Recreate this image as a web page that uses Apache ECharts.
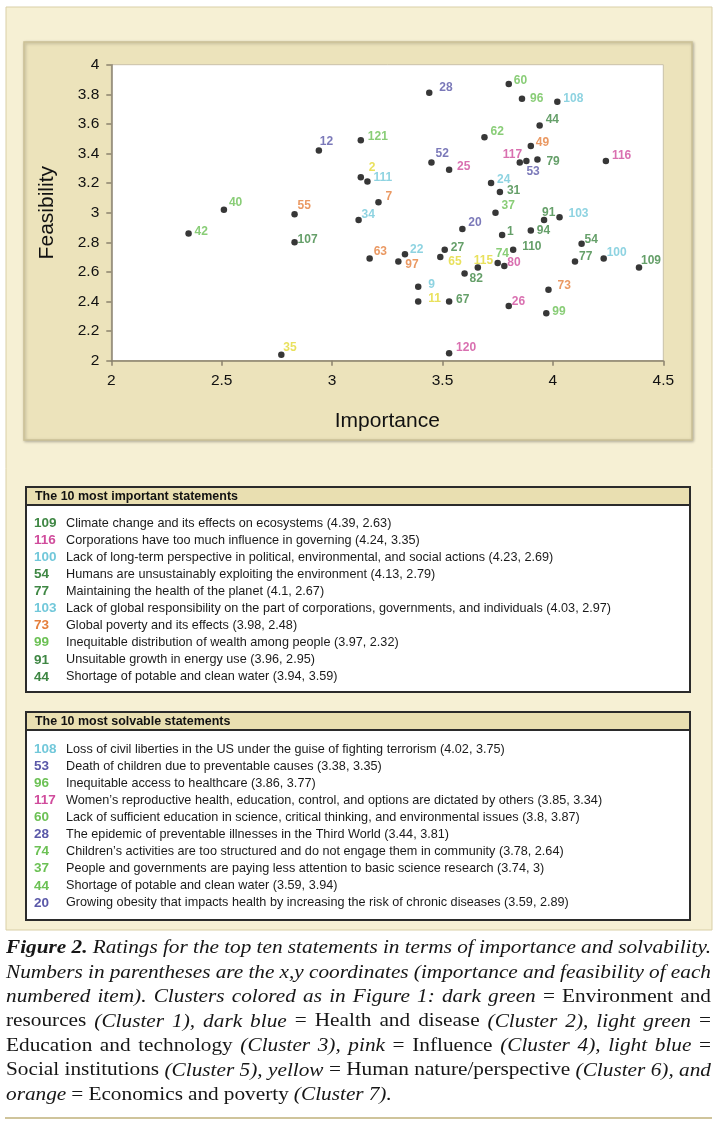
<!DOCTYPE html>
<html><head><meta charset="utf-8">
<script src="https://cdn.jsdelivr.net/npm/echarts@6/dist/echarts.min.js"></script>
<style>html,body{margin:0;padding:0;background:#fff;}#c{width:720px;height:1128px;}</style>
</head><body><div id="c"></div>
<script>
// ---------------- DATA ----------------
const pointIds    = ['109','116','100','54','77','103','73','99','91','44','108','53','96','117','60','28','74','37','20','12','121','52','25','2','111','7','34','62','49','79','24','31','40','42','55','107','35','63','22','97','27','65','115','82','9','11','67','120','1','94','110','80','26'];
const importance  = [4.39,4.24,4.23,4.13,4.10,4.03,3.98,3.97,3.96,3.94,4.02,3.88,3.86,3.85,3.80,3.44,3.75,3.74,3.59,2.94,3.13,3.45,3.53,3.13,3.16,3.21,3.12,3.69,3.90,3.93,3.72,3.76,2.51,2.35,2.83,2.83,2.77,3.17,3.33,3.30,3.51,3.49,3.66,3.60,3.39,3.39,3.53,3.53,3.77,3.90,3.82,3.78,3.80];
const feasibility = [2.63,3.35,2.69,2.79,2.67,2.97,2.48,2.32,2.95,3.59,3.75,3.35,3.77,3.34,3.87,3.81,2.66,3.00,2.89,3.42,3.49,3.34,3.29,3.24,3.21,3.07,2.95,3.51,3.45,3.36,3.20,3.14,3.02,2.86,2.99,2.80,2.04,2.69,2.72,2.67,2.75,2.70,2.63,2.59,2.50,2.40,2.40,2.05,2.85,2.88,2.75,2.64,2.37];
const clusterOf   = [1,4,5,1,1,5,7,3,1,1,5,2,3,4,3,2,3,3,2,2,3,2,4,6,5,7,5,3,7,1,5,1,3,3,7,1,6,7,5,7,1,6,6,1,5,6,1,4,1,1,1,4,4];
const clusterNames = ['Environment and resources','Health and disease','Education and technology','Influence','Social institutions','Human nature/perspective','Economics and poverty'];
const xTickLabels = ['2','2.5','3','3.5','4','4.5'];
const yTickLabels = ['2','2.2','2.4','2.6','2.8','3','3.2','3.4','3.6','3.8','4'];

const importantTitle = 'The 10 most important statements';
const importantIds = ['109','116','100','54','77','103','73','99','91','44'];
const importantCluster = [1,4,5,1,1,5,7,3,1,1];
const importantText = [
 'Climate change and its effects on ecosystems (4.39, 2.63)',
 'Corporations have too much influence in governing (4.24, 3.35)',
 'Lack of long-term perspective in political, environmental, and social actions (4.23, 2.69)',
 'Humans are unsustainably exploiting the environment (4.13, 2.79)',
 'Maintaining the health of the planet (4.1, 2.67)',
 'Lack of global responsibility on the part of corporations, governments, and individuals (4.03, 2.97)',
 'Global poverty and its effects (3.98, 2.48)',
 'Inequitable distribution of wealth among people (3.97, 2.32)',
 'Unsuitable growth in energy use (3.96, 2.95)',
 'Shortage of potable and clean water (3.94, 3.59)'];

const solvableTitle = 'The 10 most solvable statements';
const solvableIds = ['108','53','96','117','60','28','74','37','44','20'];
const solvableCluster = [5,2,3,4,3,2,3,3,3,2];
const solvableText = [
 'Loss of civil liberties in the US under the guise of fighting terrorism (4.02, 3.75)',
 'Death of children due to preventable causes (3.38, 3.35)',
 'Inequitable access to healthcare (3.86, 3.77)',
 'Women\u2019s reproductive health, education, control, and options are dictated by others (3.85, 3.34)',
 'Lack of sufficient education in science, critical thinking, and environmental issues (3.8, 3.87)',
 'The epidemic of preventable illnesses in the Third World (3.44, 3.81)',
 'Children\u2019s activities are too structured and do not engage them in community (3.78, 2.64)',
 'People and governments are paying less attention to basic science research (3.74, 3)',
 'Shortage of potable and clean water (3.59, 3.94)',
 'Growing obesity that impacts health by increasing the risk of chronic diseases (3.59, 2.89)'];

const captionLines = [
 [['Figure 2.','bi'],['Ratings for the top ten statements in terms of importance and solvability.','i']],
 [['Numbers in parentheses are the x,y coordinates (importance and feasibility of each','i']],
 [['numbered item). Clusters colored as in Figure 1: dark green','i'],['= Environment and','r']],
 [['resources','r'],['(Cluster 1), dark blue','i'],['= Health and disease','r'],['(Cluster 2), light green','i'],['=','r']],
 [['Education and technology','r'],['(Cluster 3), pink','i'],['= Influence','r'],['(Cluster 4), light blue','i'],['=','r']],
 [['Social institutions','r'],['(Cluster 5), yellow','i'],['= Human nature/perspective','r'],['(Cluster 6), and','i']],
 [['orange','i'],['= Economics and poverty','r'],['(Cluster 7).','i']]
];

// ---------------- STYLE / LAYOUT ----------------
const clusterColors = ['#3f8744','#5a58a8','#6cc155','#d04c9c','#72c8da','#e3da35','#e57f3c'];
const labelOffsets = {
 '28':[10,-5],'60':[5,-3],'96':[8,0],'108':[6,-3],'44':[6,-6],'49':[5,-3],'79':[9,2],'116':[6,-5],
 '12':[1,-9],'121':[7,-3],'52':[4,-9],'25':[8,-3],'111':[6,-4],'7':[7,-6],'62':[6,-6],'24':[6,-3],
 '31':[7,-1],'37':[6,-7],'91':[-2,-7],'103':[9,-3],'34':[3,-5],'55':[3,-8],'40':[5,-7],'42':[6,-2],
 '107':[3,-3],'35':[2,-7],'63':[4,-7],'22':[5,-4],'97':[7,3],'27':[6,-2],'65':[8,5],'20':[6,-6],
 '115':[-4,-7],'82':[5,5],'9':[10,-2],'11':[10,-3],'67':[7,-2],'120':[7,-6],'1':[5,-3],'94':[6,0],
 '110':[9,-3],'54':[3,-4],'77':[4,-5],'100':[3,-6],'109':[2,-7],'73':[9,-4],'26':[3,-4],'99':[6,-2],
 '74':[-2,-9],'80':[3,-3],'2':[8,-9],'117':[-17,-8],'53':[0,11]
};
const SANS = '"Liberation Sans", Arial, Helvetica, sans-serif';
const SERIF = '"Liberation Serif", "Times New Roman", serif';
const axisCol = '#8a826e';

const mctx = document.createElement('canvas').getContext('2d');
function measure(text, font){ mctx.font = font; return mctx.measureText(text).width; }

// ---------------- SERIES ----------------
const series = clusterNames.map((nm, ci) => {
  const data = [];
  pointIds.forEach((id, i) => {
    if (clusterOf[i] === ci + 1) {
      data.push({name: id, value: [importance[i], feasibility[i]], label: {offset: labelOffsets[id] || [7,-4]}});
    }
  });
  return {
    type: 'scatter', name: nm, data, symbol: 'circle', symbolSize: 6.5,
    itemStyle: {color: '#050505'},
    label: {show: true, position: 'inside', align: 'left', verticalAlign: 'middle', formatter: '{b}',
      color: clusterColors[ci], fontWeight: 'bold', fontSize: 12, fontFamily: SANS},
    emphasis: {disabled: true}, silent: true, z: 5
  };
});

// ---------------- GRAPHICS ----------------
const g = [];
g.push({type:'rect', z:-10, shape:{x:6,y:7,width:706,height:923}, style:{fill:'#f6f0d4', stroke:'#d9cfa6', lineWidth:1}});
g.push({type:'rect', z:-9, shape:{x:24,y:42,width:668,height:398}, style:{fill:'#ece3bb', stroke:'#cbc196', lineWidth:1.5, shadowBlur:3, shadowColor:'rgba(0,0,0,0.25)', shadowOffsetX:1, shadowOffsetY:1}});

function box(top, height, title, ids, clusters, texts, firstRow) {
  g.push({type:'rect', z:-8, shape:{x:26,y:top,width:664,height:height}, style:{fill:'#ffffff', stroke:'#2b2b2b', lineWidth:2}});
  g.push({type:'rect', z:-7, shape:{x:26,y:top,width:664,height:18}, style:{fill:'#e9dfb1', stroke:'#2b2b2b', lineWidth:2}});
  const hFont = 'bold 12.5px ' + SANS;
  const hScale = 203 / measure(importantTitle, hFont);
  g.push({type:'text', z:10, x:35, y:top+9.5, scaleX:hScale, style:{text:title, font:hFont, fill:'#111', align:'left', verticalAlign:'middle', textAlign:'left', textVerticalAlign:'middle'}});
  const rFont = '13px ' + SANS;
  const rScale = 545 / measure(importantText[5], rFont);
  texts.forEach((t, i) => {
    const y = firstRow + i * 17.1;
    const col = clusterColors[clusters[i] - 1];
    g.push({type:'text', z:10, x:34, y:y, style:{text:ids[i], font:'bold 13.5px ' + SANS, fill:col, align:'left', verticalAlign:'middle', textAlign:'left', textVerticalAlign:'middle', shadowBlur:1.5, shadowColor:col}});
    g.push({type:'text', z:10, x:66, y:y, scaleX:rScale, style:{text:t, font:rFont, fill:'#1a1a1a', align:'left', verticalAlign:'middle', textAlign:'left', textVerticalAlign:'middle'}});
  });
}
box(487, 205, importantTitle, importantIds, importantCluster, importantText, 523);
box(712, 208, solvableTitle, solvableIds, solvableCluster, solvableText, 749);

// caption, justified word by word
function capFont(st, size){ return (st === 'r' ? '' : 'italic ') + (st === 'bi' ? 'bold ' : '') + size + 'px ' + SERIF; }
const capSize = 19, capLeft = 6, capRight = 711, minGap = 4.6;
const capWords = captionLines.map(line => {
  const words = [];
  line.forEach(([txt, st]) => txt.split(' ').filter(w => w).forEach(w => words.push({w, st, f: capFont(st, capSize)})));
  words.forEach(o => { o.wd = measure(o.w, o.f); });
  return words;
});
let capScale = 1.12;
capWords.forEach((words, li) => {
  if (li === capWords.length - 1) return;
  const sum = words.reduce((a, o) => a + o.wd, 0);
  capScale = Math.min(capScale, (capRight - capLeft - minGap * (words.length - 1)) / sum);
});
capWords.forEach((words, li) => {
  const sum = words.reduce((a, o) => a + o.wd * capScale, 0);
  const justify = li < capWords.length - 1;
  const gap = justify ? (capRight - capLeft - sum) / (words.length - 1) : minGap * 1.1;
  let x = capLeft; const y = 948 + li * 24.5;
  words.forEach(o => {
    g.push({type:'text', z:10, x:x, y:y, scaleX:capScale, style:{text:o.w, font:o.f, fill:'#161616', align:'left', verticalAlign:'middle', textAlign:'left', textVerticalAlign:'middle'}});
    x += o.wd * capScale + gap;
  });
});
g.push({type:'rect', z:-5, shape:{x:5,y:1117,width:707,height:2}, style:{fill:'#cfc49b'}});

// ---------------- CHART ----------------
const chart = echarts.init(document.getElementById('c'), null, {renderer:'canvas', width:720, height:1128});
chart.setOption({
  animation: false,
  backgroundColor: '#ffffff',
  graphic: {elements: g},
  grid: {left:111.3, top:64.7, width:552, height:296, show:true, backgroundColor:'#ffffff', borderColor:'#c9c1a8', borderWidth:1, containLabel:false, outerBoundsMode:'none'},
  xAxis: {type:'value', min:2, max:4.5, interval:0.5,
    axisLine:{show:true, onZero:false, lineStyle:{color:axisCol, width:1.5}},
    axisTick:{show:true, inside:false, length:5, lineStyle:{color:axisCol, width:1.5}},
    splitLine:{show:false},
    axisLabel:{show:true, color:'#111', fontSize:15.5, fontFamily:SANS, margin:12,
      formatter: v => xTickLabels[Math.round((v - 2) / 0.5)]},
    name:'Importance', nameLocation:'middle', nameGap:50,
    nameTextStyle:{fontSize:21, color:'#111', fontFamily:SANS}},
  yAxis: {type:'value', min:2, max:4, interval:0.2,
    axisLine:{show:true, onZero:false, lineStyle:{color:axisCol, width:1.5}},
    axisTick:{show:true, inside:false, length:5, lineStyle:{color:axisCol, width:1.5}},
    splitLine:{show:false},
    axisLabel:{show:true, color:'#111', fontSize:15.5, fontFamily:SANS, margin:12,
      formatter: v => yTickLabels[Math.round((v - 2) / 0.2)]},
    name:'Feasibility', nameLocation:'middle', nameGap:54, nameRotate:90,
    nameTextStyle:{fontSize:21, color:'#111', fontFamily:SANS}},
  tooltip: {show:false},
  legend: {show:false},
  series: series
});
</script></body></html>
